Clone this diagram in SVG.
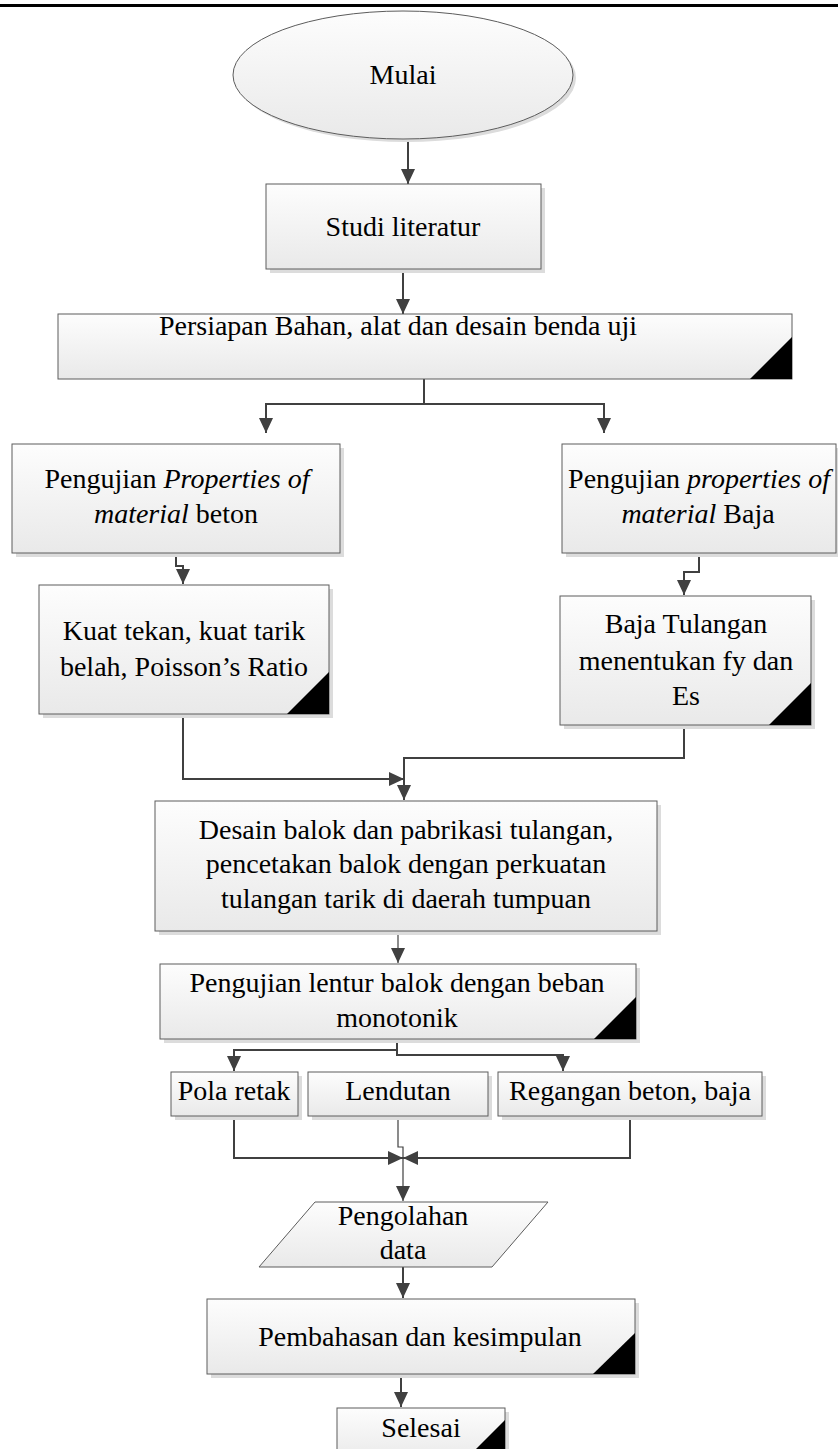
<svg xmlns="http://www.w3.org/2000/svg" width="838" height="1449" viewBox="0 0 838 1449">
<defs>
<linearGradient id="g" x1="0" y1="0" x2="0" y2="1">
<stop offset="0" stop-color="#fdfdfd"/>
<stop offset="1" stop-color="#e9e9e9"/>
</linearGradient>
<marker id="a" markerUnits="userSpaceOnUse" markerWidth="16" markerHeight="16" viewBox="0 0 16 16" refX="15" refY="8" orient="auto">
<path d="M0,1 L15,8 L0,15 z" fill="#404040"/>
</marker>
</defs>
<style>
.box{fill:url(#g);stroke:#5c5c5c;stroke-width:1}
.sh{fill:#dcdcdc}
.tri{fill:#000}
.t{font-family:"Liberation Serif","Times New Roman",serif;font-size:28px;fill:#000;text-anchor:middle}
.c{fill:none;stroke:#404040;stroke-width:2;marker-end:url(#a)}
.thin{stroke-width:1.2}
</style>
<rect x="0" y="4" width="838" height="3" fill="#000"/>

<g id="connectors">
<path class="c" d="M408,139 V184"/>
<path class="c" d="M403,269 V314"/>
<path class="c" d="M424,379 V404 H266 V433"/>
<path class="c" d="M424,404 H604 V433"/>
<path class="c" d="M176,553 V566 H183 V584"/>
<path class="c" d="M699,553 V572 H684 V595"/>
<path class="c" d="M183,714 V779 H404"/>
<path class="c" d="M684,725 V758 H404 V800"/>
<path class="c thin" d="M398,931 V963"/>
<path class="c" d="M397,1039 V1050 H234 V1071"/>
<path class="c" d="M397,1050 V1055 H563 V1071"/>
<path class="c" d="M234,1116 V1158 H403"/>
<path class="c" d="M630,1116 V1158 H403"/>
<path class="c thin" d="M398,1116 V1147 H403 V1201"/>
<path class="c" d="M403,1267 V1298"/>
<path class="c" d="M401,1375 V1407"/>
</g>

<g id="mulai">
<ellipse class="sh" cx="406" cy="78" rx="170" ry="64"/>
<ellipse class="box" cx="403" cy="75" rx="170" ry="64"/>
<text class="t" x="403" y="84">Mulai</text>
</g>

<g id="studi">
<rect class="sh" x="270" y="188" width="275" height="85"/>
<rect class="box" x="266" y="184" width="275" height="85"/>
<text class="t" x="403" y="236">Studi literatur</text>
</g>

<g id="persiapan">
<rect class="box" x="58" y="314" width="734" height="65"/>
<path class="tri" d="M792,337 V379 H750 z"/>
<text class="t" x="398" y="335">Persiapan Bahan, alat dan desain benda uji</text>
</g>

<g id="uji-beton">
<rect class="sh" x="16" y="448" width="328" height="109"/>
<rect class="box" x="12" y="444" width="328" height="109"/>
<text class="t"><tspan x="177" y="488">Pengujian <tspan font-style="italic">Properties of</tspan></tspan><tspan x="176" y="523"><tspan font-style="italic">material</tspan> beton</tspan></text>
</g>

<g id="uji-baja">
<rect class="sh" x="566" y="448" width="274" height="109"/>
<rect class="box" x="562" y="444" width="274" height="109"/>
<text class="t"><tspan x="699" y="488">Pengujian <tspan font-style="italic">properties of</tspan></tspan><tspan x="698" y="523"><tspan font-style="italic">material</tspan> Baja</tspan></text>
</g>

<g id="kuat">
<rect class="sh" x="43" y="589" width="290" height="129"/>
<rect class="box" x="39" y="585" width="290" height="129"/>
<path class="tri" d="M329,672 V714 H287 z"/>
<text class="t"><tspan x="184" y="640">Kuat tekan, kuat tarik</tspan><tspan x="184" y="676">belah, Poisson’s Ratio</tspan></text>
</g>

<g id="baja-tulangan">
<rect class="sh" x="564" y="600" width="251" height="129"/>
<rect class="box" x="560" y="596" width="251" height="129"/>
<path class="tri" d="M811,683 V725 H769 z"/>
<text class="t"><tspan x="686" y="633">Baja Tulangan</tspan><tspan x="686" y="670">menentukan fy dan</tspan><tspan x="686" y="705">Es</tspan></text>
</g>

<g id="desain">
<rect class="sh" x="159" y="805" width="502" height="130"/>
<rect class="box" x="155" y="801" width="502" height="130"/>
<text class="t"><tspan x="406" y="839">Desain balok dan pabrikasi tulangan,</tspan><tspan x="406" y="873">pencetakan balok dengan perkuatan</tspan><tspan x="406" y="908">tulangan tarik di daerah tumpuan</tspan></text>
</g>

<g id="lentur">
<rect class="sh" x="164" y="968" width="476" height="75"/>
<rect class="box" x="160" y="964" width="476" height="75"/>
<path class="tri" d="M636,997 V1039 H594 z"/>
<text class="t"><tspan x="397" y="992">Pengujian lentur balok dengan beban</tspan><tspan x="397" y="1027">monotonik</tspan></text>
</g>

<g id="pola">
<rect class="sh" x="175" y="1076" width="127" height="44"/>
<rect class="box" x="171" y="1072" width="127" height="44"/>
<text class="t" x="234" y="1100">Pola retak</text>
</g>

<g id="lendutan">
<rect class="sh" x="312" y="1076" width="180" height="44"/>
<rect class="box" x="308" y="1072" width="180" height="44"/>
<text class="t" x="398" y="1100">Lendutan</text>
</g>

<g id="regangan">
<rect class="sh" x="502" y="1076" width="264" height="44"/>
<rect class="box" x="498" y="1072" width="264" height="44"/>
<text class="t" x="630" y="1100">Regangan beton, baja</text>
</g>

<g id="pengolahan">
<path class="box" d="M315,1202 H548 L492,1267 H259 z"/>
<text class="t"><tspan x="403" y="1225">Pengolahan</tspan><tspan x="403" y="1259">data</tspan></text>
</g>

<g id="pembahasan">
<rect class="sh" x="211" y="1303" width="428" height="75"/>
<rect class="box" x="207" y="1299" width="428" height="75"/>
<path class="tri" d="M635,1333 V1374 H593 z"/>
<text class="t" x="420" y="1346">Pembahasan dan kesimpulan</text>
</g>

<g id="selesai">
<rect class="sh" x="341" y="1412" width="168" height="54"/>
<rect class="box" x="337" y="1408" width="168" height="54"/>
<path class="tri" d="M505,1420 V1462 H463 z"/>
<text class="t" x="421" y="1437">Selesai</text>
</g>
</svg>
